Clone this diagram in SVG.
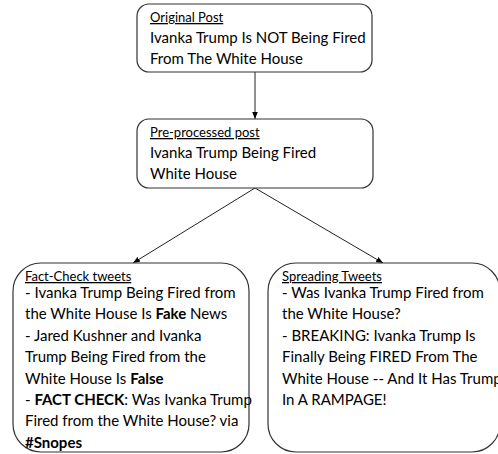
<svg xmlns="http://www.w3.org/2000/svg" width="498" height="454" viewBox="0 0 498 454">
<defs>
<style>
.box{fill:#fff;stroke:#333;stroke-width:1.2}
.h{font-family:Lato,"Open Sans",sans-serif;font-size:13px;fill:#000;text-decoration:underline}
.t{font-family:Lato,"Open Sans",sans-serif;font-size:15px;fill:#000}
.c{stroke:#222;stroke-width:1;fill:none;marker-end:url(#ah)}
.b{font-weight:bold}
</style>
<marker id="ah" viewBox="0 0 10 10" refX="10" refY="5" markerWidth="7" markerHeight="7" orient="auto" markerUnits="userSpaceOnUse"><path d="M0,1 L10,5 L0,9 z" fill="#000"/></marker>
</defs>
<rect width="498" height="454" fill="#fff"/>
<g id="connectors">
<line class="c" x1="255" y1="72" x2="255" y2="119"/>
<line class="c" x1="255" y1="188" x2="133" y2="263"/>
<line class="c" x1="255" y1="188" x2="383" y2="263"/>
</g>
<g id="original-post">
<rect class="box" x="137" y="4" width="235" height="68" rx="12"/>
<text class="h" x="150" y="22">Original Post</text>
<text class="t" x="150" y="43">Ivanka Trump Is NOT Being Fired</text>
<text class="t" x="150" y="64">From The White House</text>
</g>
<g id="preprocessed-post">
<rect class="box" x="137" y="119" width="236" height="69" rx="12"/>
<text class="h" x="150" y="137">Pre-processed post</text>
<text class="t" x="150" y="158">Ivanka Trump Being Fired</text>
<text class="t" x="150" y="179">White House</text>
</g>
<g id="fact-check-tweets">
<rect class="box" x="13" y="263" width="236" height="189" rx="28"/>
<text class="h" x="25" y="281">Fact-Check tweets</text>
<text class="t" x="25" y="298">- Ivanka Trump Being Fired from</text>
<text class="t" x="25" y="319.4">the White House Is <tspan class="b">Fake</tspan> News</text>
<text class="t" x="25" y="340.8">- Jared Kushner and Ivanka</text>
<text class="t" x="25" y="362.2">Trump Being Fired from the</text>
<text class="t" x="25" y="383.6">White House Is <tspan class="b">False</tspan></text>
<text class="t" x="25" y="405">- <tspan class="b">FACT CHECK</tspan>: Was Ivanka Trump</text>
<text class="t" x="25" y="426.4">Fired from the White House? via</text>
<text class="t b" x="25" y="447.8">#Snopes</text>
</g>
<g id="spreading-tweets">
<rect class="box" x="268" y="263" width="232" height="189" rx="28"/>
<text class="h" x="282" y="281">Spreading Tweets</text>
<text class="t" x="282" y="298">- Was Ivanka Trump Fired from</text>
<text class="t" x="282" y="319.4">the White House?</text>
<text class="t" x="282" y="340.8">- BREAKING: Ivanka Trump Is</text>
<text class="t" x="282" y="362.2">Finally Being FIRED From The</text>
<text class="t" x="282" y="383.6">White House -- And It Has Trump</text>
<text class="t" x="282" y="405">In A RAMPAGE!</text>
</g>
</svg>
